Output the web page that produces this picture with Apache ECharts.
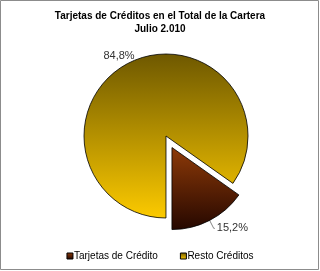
<!DOCTYPE html>
<html><head><meta charset="utf-8">
<script src="https://cdn.jsdelivr.net/npm/echarts@6/dist/echarts.min.js"></script>
<style>html,body{margin:0;padding:0;background:#fff}#c{width:320px;height:271px}</style>
</head><body><div id="c"></div>
<script>
const titleLines = ['Tarjetas de Créditos en el Total de la Cartera', 'Julio 2.010'];
const categories = ['Tarjetas de Crédito', 'Resto Créditos'];
const values = [15.2, 84.8];
const labels = ['15,2%', '84,8%'];

const grads = [
  {type:'linear',x:0,y:0,x2:0,y2:1,colorStops:[{offset:0,color:'#8e3a08'},{offset:1,color:'#250700'}]},
  {type:'linear',x:0,y:0,x2:0,y2:1,colorStops:[{offset:0,color:'#6e5800'},{offset:1,color:'#fcca00'}]}
];
const chart = echarts.init(document.getElementById('c'), null, {renderer:'canvas'});
chart.setOption({
  animation:false,
  title:{text:titleLines.join('\n'),left:'center',top:5,
    textStyle:{fontFamily:'Liberation Sans',fontSize:10,fontWeight:'bold',color:'#000',lineHeight:13}},
  graphic:[{type:'rect',shape:{x:0.5,y:0.5,width:318,height:269},style:{fill:null,stroke:'#8c8c8c',lineWidth:1},silent:true}],
  legend:{bottom:5,left:'center',itemWidth:6,itemHeight:6,itemGap:22,icon:'rect',
    textStyle:{fontFamily:'Liberation Sans',fontSize:10,color:'#000',padding:[0,0,0,-4]},
    itemStyle:{borderColor:'#000',borderWidth:1}},
  series:[{
    type:'pie',center:[166,136],radius:82,startAngle:-35.3,clockwise:true,
    selectedMode:'single',selectedOffset:13,
    itemStyle:{borderColor:'#000',borderWidth:0.8},
    label:{position:'outside',fontFamily:'Liberation Sans',fontSize:11,color:'#333',distanceToLabelLine:2,
      formatter:p=>labels[p.dataIndex]},
    labelLayout:p=>p.dataIndex===1 ? {dx:11,dy:-2} : {},
    data:categories.map((c,i)=>({name:c,value:values[i],selected:i===0,
      itemStyle:{color:grads[i]},
      labelLine: i===0 ? {show:true,length:9,length2:1,lineStyle:{color:'#666',width:0.8}} : {show:false,length:6,length2:0}}))
  }]
});
</script></body></html>
